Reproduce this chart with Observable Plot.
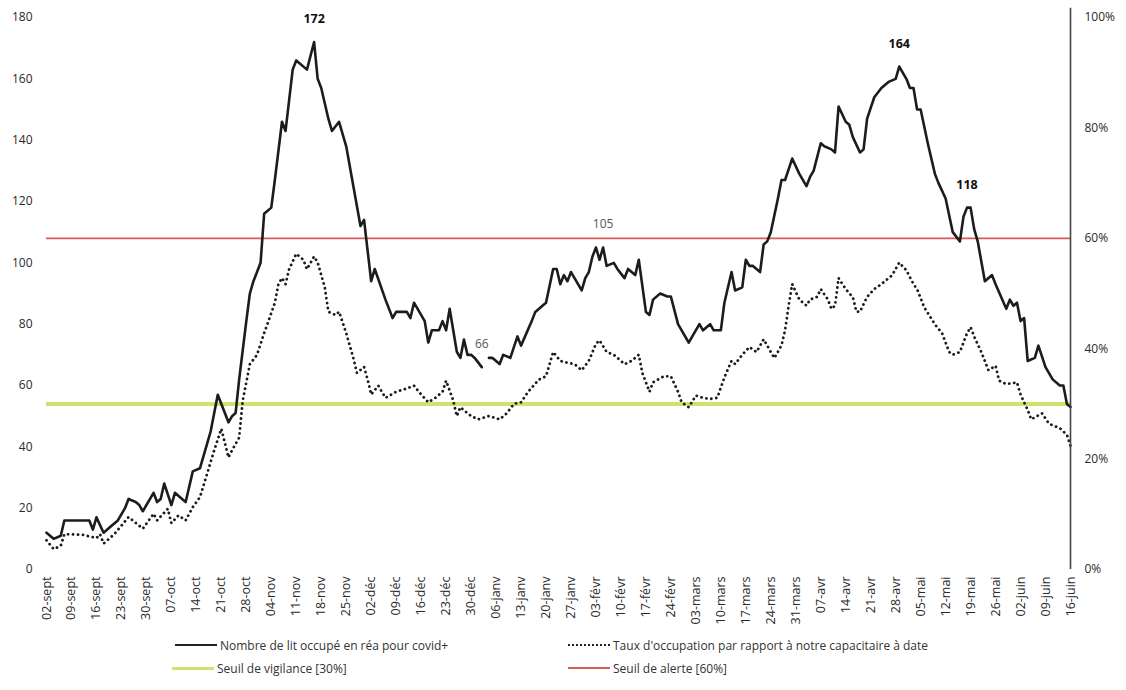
<!DOCTYPE html>
<html><head><meta charset="utf-8">
<script src="https://cdn.jsdelivr.net/npm/d3@7"></script>
<script src="https://cdn.jsdelivr.net/npm/@observablehq/plot@0.6"></script>
<style>
body{margin:0;background:#fff;}
#wrap{position:relative;width:1126px;height:690px;font-family:"Open Sans",sans-serif;background:#fff;}
.leg{position:absolute;font-size:12px;color:#333;display:flex;align-items:center;white-space:nowrap;height:16px;}
.sw{display:inline-block;width:42px;margin-right:3px;}
</style></head><body><div id="wrap"><div id="chart"></div></div>
<script>
// Nombre de lits occupés en réa (covid+) : [jour depuis le 02-sept-2020, valeur]
const bedsSeries = [[0,12],[2,10],[4,11],[5,16],[12,16],[13,13],[14,17],[16,12],[18,14],[20,16],[22,20],[23,23],[25,22],[26,21],[27,19],[30,25],[31,22],[32,23],[33,28],[35,21],[36,25],[38,23],[39,22],[41,32],[43,33],[45,41],[46,45],[48,57],[51,48],[52,50],[53,51],[54,62],[56,81],[57,90],[58,94],[60,100],[61,116],[63,118],[64,127],[66,146],[67,143],[69,163],[70,166],[73,163],[75,172],[76,160],[77,157],[79,147],[80,143],[82,146],[84,138],[88,112],[89,114],[90,104],[91,94],[92,98],[95,88],[97,82],[98,84],[101,84],[102,82],[103,87],[106,81],[107,74],[108,78],[110,78],[111,81],[112,78],[113,85],[115,71],[116,69],[117,75],[118,70],[119,70],[120,69],[122,66],[123,null],[124,69],[125,69],[127,67],[128,70],[130,69],[132,76],[133,73],[136,81],[137,84],[139,86],[140,87],[142,98],[143,98],[144,93],[145,96],[146,94],[147,97],[148,95],[150,91],[151,95],[152,97],[153,102],[154,105],[155,101],[156,105],[157,99],[159,100],[160,98],[162,95],[163,98],[165,96],[166,101],[168,84],[169,83],[170,88],[172,90],[174,89],[175,89],[177,80],[180,74],[181,76],[183,80],[184,78],[186,80],[187,78],[189,78],[190,87],[192,97],[193,91],[195,92],[196,101],[197,99],[198,99],[200,97],[201,106],[202,107],[203,110],[205,121],[206,127],[207,127],[209,134],[211,129],[213,125],[214,128],[215,130],[217,139],[218,138],[220,137],[221,136],[222,151],[224,146],[225,145],[226,141],[228,136],[229,137],[230,147],[232,154],[234,157],[236,159],[238,160],[239,164],[241,160],[242,157],[243,157],[244,150],[245,150],[247,139],[249,129],[250,126],[252,121],[254,110],[256,107],[257,115],[258,118],[259,118],[260,111],[261,107],[263,94],[265,96],[266,93],[269,85],[270,88],[271,86],[272,87],[273,81],[274,82],[275,68],[277,69],[278,73],[280,66],[282,62],[284,60],[285,60],[286,54],[287,53]];

// Taux d'occupation (%) : [jour, %]
const rateSeries = [[0,5.3],[2,3.7],[4,4.3],[5,6.4],[10,6.3],[14,5.7],[15,6.4],[16,4.7],[19,6.4],[23,9.5],[27,7.4],[30,10.1],[31,8.9],[34,11],[35,8.4],[37,9.8],[39,8.9],[41,11.3],[43,13.1],[45,17.3],[47,21.6],[49,25.5],[51,20.3],[52,21.6],[54,23.9],[55,30.6],[56,33.9],[57,37.2],[59,38.9],[61,42.8],[64,48.3],[65,51.7],[66,52.8],[67,51.7],[68,54.4],[70,57.2],[72,56.1],[73,54.4],[75,56.7],[76,55.6],[78,51.1],[79,46.7],[81,46.1],[82,46.7],[84,42.8],[86,38.3],[87,35.6],[89,36.7],[90,34.4],[91,31.7],[93,33.3],[95,31.1],[98,32.2],[101,32.8],[103,33.3],[105,31.7],[107,30.3],[109,31.1],[111,32.2],[112,34.2],[114,30.6],[115,27.8],[116,29.4],[118,28.3],[119,27.8],[121,27.2],[124,27.8],[127,27.2],[129,28.3],[131,30],[133,30.3],[135,32.2],[138,34.4],[140,35],[142,39.4],[144,37.8],[145,37.6],[148,37.2],[150,36.1],[152,37.8],[154,40.9],[155,41.5],[157,39.4],[159,38.9],[161,37.8],[162,37.2],[164,37.8],[166,38.9],[167,35.6],[169,32.2],[170,33.9],[173,35],[175,35],[177,32.2],[178,30.3],[180,29.4],[182,31.5],[184,31.1],[186,30.9],[188,31.1],[190,34.8],[192,37.8],[193,37.2],[195,38.9],[197,40.3],[199,39.4],[201,41.7],[203,39.4],[204,38.3],[206,40.6],[207,43.3],[208,47.8],[209,51.7],[211,48.9],[213,47.8],[214,48.9],[216,49.4],[217,50.8],[219,48.9],[220,47.2],[221,47.8],[222,52.8],[224,50.8],[226,49.3],[227,46.7],[228,46.7],[230,49.4],[232,50.8],[234,51.7],[237,53.3],[239,55.6],[241,54.2],[243,51.7],[244,50.8],[246,47.5],[249,44.4],[251,42.8],[253,39.4],[254,38.9],[256,39.4],[258,42.8],[259,43.9],[260,42.2],[262,39.4],[264,36.1],[266,36.9],[267,34.2],[269,33.6],[272,33.9],[273,31.7],[275,28.9],[276,27.2],[279,28.3],[281,26.4],[284,25.6],[286,24.4],[287,22.4]];

const tickLabels = ["02-sept","09-sept","16-sept","23-sept","30-sept","07-oct","14-oct","21-oct","28-oct","04-nov","11-nov","18-nov","25-nov","02-déc","09-déc","16-déc","23-déc","30-déc","06-janv","13-janv","20-janv","27-janv","03-févr","10-févr","17-févr","24-févr","03-mars","10-mars","17-mars","24-mars","31-mars","07-avr","14-avr","21-avr","28-avr","05-mai","12-mai","19-mai","26-mai","02-juin","09-juin","16-juin"];
const yTicks = [0,20,40,60,80,100,120,140,160,180];
const pctTicks = [0,20,40,60,80,100];
const thresholds = [{pct:30, color:"#d3e06a", w:4}, {pct:60, color:"#d65c58", w:1.8}];
const peakBold = [[75,172],[239,164],[258,118]];
const peakLight = [[156,105],[122,66]];
const lastDay = 287;

const start = Date.UTC(2020, 8, 2);
const DAY = 864e5;
const toDate = d => new Date(start + d * DAY);
const K = 1.8; // 100 % sur l'axe de droite ↔ 180 sur l'axe de gauche

const beds = bedsSeries.map(([d, v]) => ({date: toDate(d), v}));
const rate = rateSeries.map(([d, p]) => ({date: toDate(d), v: p * K}));
const tickDates = tickLabels.map((s, i) => toDate(i * 7));
const labelMap = new Map(tickDates.map((d, i) => [+d, tickLabels[i]]));
const thr = thresholds.map(t => ({...t, y: t.pct * K, x1: toDate(0), x2: toDate(lastDay)}));

const chart = Plot.plot({
  width: 1126, height: 630,
  marginLeft: 46, marginRight: 56, marginTop: 17, marginBottom: 61,
  style: {fontFamily: "Open Sans, sans-serif", fontSize: "12px", color: "#2a2a2a", background: "#fff", overflow: "visible"},
  x: {type: "utc", domain: [toDate(0), toDate(lastDay)]},
  y: {domain: [0, 180]},
  marks: [
    Plot.ruleY(thr, {y: "y", x1: "x1", x2: "x2", stroke: "color", strokeWidth: "w"}),
    Plot.line(rate, {x: "date", y: "v", stroke: "#1c1c1c", strokeWidth: 2.8, strokeDasharray: "0.1 4.9", strokeLinecap: "round"}),
    Plot.line(beds, {x: "date", y: "v", stroke: "#1c1c1c", strokeWidth: 2.6, strokeLinejoin: "round"}),
    Plot.ruleX([{x: toDate(lastDay)}], {x: "x", y1: 0, y2: 183, stroke: "#444", strokeWidth: 1.6}),
    Plot.text(peakBold.map(([d, v]) => ({date: toDate(d), v})), {x: "date", y: "v", text: d => String(d.v), dy: -23, fontWeight: "bold", fontSize: 12.5, fill: "#111"}),
    Plot.text(peakLight.map(([d, v]) => ({date: toDate(d), v})), {x: "date", y: "v", text: d => String(d.v), dy: -23, fontSize: 12, fill: "#555"}),
    Plot.axisY({anchor: "left", ticks: yTicks, tickSize: 0, tickPadding: 14, label: null, fontSize: 12}),
    Plot.axisY({anchor: "right", ticks: pctTicks.map(p => p * K), tickFormat: d => Math.round(d / K) + "%", tickSize: 0, tickPadding: 14, label: null, fontSize: 12}),
    Plot.axisX({ticks: tickDates, tickFormat: d => labelMap.get(+d), tickRotate: -90, tickSize: 0, tickPadding: 7, label: null, fontSize: 12.5})
  ]
});
document.getElementById("chart").appendChild(chart);

// Légende
const legend = [
  {x: 175, y: 637, text: "Nombre de lit occupé en réa pour covid+", sw: "border-top:2px solid #222;"},
  {x: 568, y: 637, text: "Taux d'occupation par rapport à notre capacitaire à date", sw: "border-top:2.5px dotted #222;"},
  {x: 172, y: 660, text: "Seuil de vigilance [30%]", sw: "border-top:3px solid #d3e06a;"},
  {x: 568, y: 660, text: "Seuil de alerte [60%]", sw: "border-top:2px solid #d65c58;"}
];
const wrap = document.getElementById("wrap");
for (const l of legend) {
  const div = document.createElement("div");
  div.className = "leg";
  div.style.left = l.x + "px";
  div.style.top = l.y + "px";
  const sw = document.createElement("span");
  sw.className = "sw";
  sw.style.cssText = l.sw;
  const t = document.createElement("span");
  t.textContent = l.text;
  div.appendChild(sw); div.appendChild(t);
  wrap.appendChild(div);
}
</script></body></html>
